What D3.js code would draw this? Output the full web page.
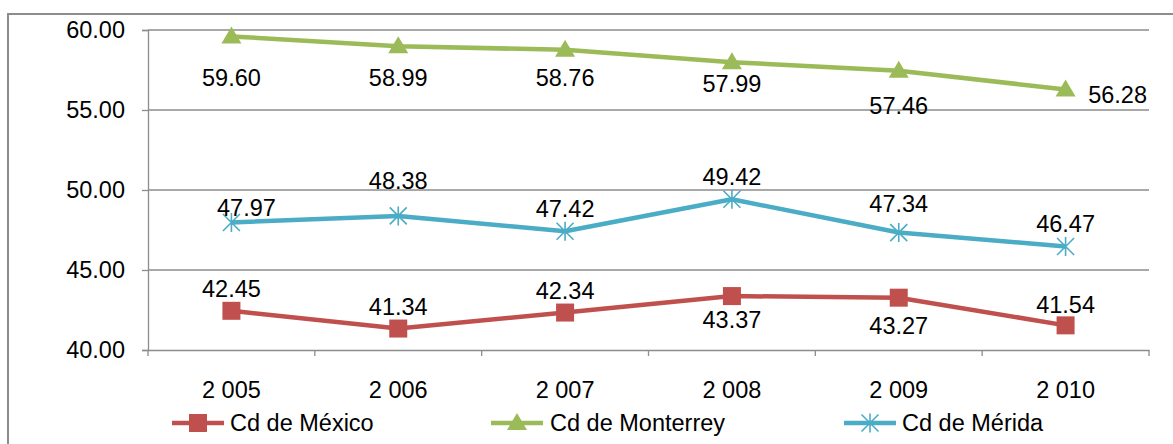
<!DOCTYPE html>
<html><head><meta charset="utf-8">
<script src="https://cdn.jsdelivr.net/npm/d3@7"></script>
<style>body{margin:0;background:#fff}svg{display:block}text{font-family:"Liberation Sans",Arial,sans-serif;fill:#000}</style>
</head><body>
<svg id="c" width="1173" height="444"></svg>
<script>
const years = ["2 005","2 006","2 007","2 008","2 009","2 010"];
const mexico = [42.45,41.34,42.34,43.37,43.27,41.54];
const monterrey = [59.60,58.99,58.76,57.99,57.46,56.28];
const merida = [47.97,48.38,47.42,49.42,47.34,46.47];
const yTicks = [40,45,50,55,60];
// label offsets (px) relative to each point
const mexLabelDy = [-22,-22,-22,23,28,-21];
const monLabelDy = [41,31,28,21,35,5];
const monLabelDx = [0,0,0,0,0,52];
const merLabelDy = [-15,-35,-23,-23,-29,-23];
const merLabelDx = [15,0,0,0,0,0];

const series = [
  {name:"Cd de México", values:mexico, color:"#C0504D", marker:"square", dy:mexLabelDy, dx:[0,0,0,0,0,0], lx:172, tx:230},
  {name:"Cd de Monterrey", values:monterrey, color:"#9BBB59", marker:"triangle", dy:monLabelDy, dx:monLabelDx, lx:491, tx:550},
  {name:"Cd de Mérida", values:merida, color:"#4BACC6", marker:"star", dy:merLabelDy, dx:merLabelDx, lx:844, tx:902}
];

const svg = d3.select("#c");
const L=148, R=1149, T=30, B=350;
const x = d3.scaleBand().domain(years).range([L,R]);
const y = d3.scaleLinear().domain([40,60]).range([B,T]);
const FS = 23.5;

// outer frame
svg.append("rect").attr("x",8).attr("y",14).attr("width",1180).attr("height",440)
  .attr("fill","none").attr("stroke","#8c8c8c").attr("stroke-width",2);

// gridlines
svg.append("g").selectAll("line").data(yTicks.filter(d=>d>40)).join("line")
  .attr("x1",L).attr("x2",R).attr("y1",d=>y(d)).attr("y2",d=>y(d))
  .attr("stroke","#8c8c8c").attr("stroke-width",1.3);

// y axis
const ya = svg.append("g").attr("transform",`translate(${L},0)`)
  .call(d3.axisLeft(y).tickValues(yTicks).tickFormat(d3.format(".2f")).tickSize(6).tickPadding(17));
ya.select(".domain").attr("stroke","#8c8c8c").attr("stroke-width",1.3);
ya.selectAll(".tick line").attr("stroke","#8c8c8c").attr("stroke-width",1.3);
ya.selectAll("text").attr("font-size",FS).attr("font-family","Liberation Sans, Arial, sans-serif").attr("fill","#000");

// x axis
const xa = svg.append("g").attr("transform",`translate(0,${B})`)
  .call(d3.axisBottom(x).tickSize(0).tickPadding(31));
xa.select(".domain").attr("stroke","#8c8c8c").attr("stroke-width",1.3);
xa.selectAll("text").attr("font-size",FS).attr("font-family","Liberation Sans, Arial, sans-serif").attr("fill","#000");
// category boundary ticks
const bounds = years.map(d=>x(d)).concat([R]);
svg.append("g").selectAll("line").data(bounds).join("line")
  .attr("x1",d=>d).attr("x2",d=>d).attr("y1",B).attr("y2",B+6)
  .attr("stroke","#8c8c8c").attr("stroke-width",1.3);

function drawMarker(g, type, cx, cy, color){
  if(type==="square"){
    g.append("rect").attr("x",cx-9).attr("y",cy-9).attr("width",18).attr("height",18).attr("fill",color);
  } else if(type==="triangle"){
    g.append("path").attr("d",`M${cx},${cy-10}L${cx+10},${cy+7}L${cx-10},${cy+7}Z`).attr("fill",color);
  } else {
    const r=8.5;
    g.append("path").attr("d",`M${cx-r},${cy-r}L${cx+r},${cy+r}M${cx-r},${cy+r}L${cx+r},${cy-r}M${cx},${cy-r-1}L${cx},${cy+r+1}`)
      .attr("stroke",color).attr("stroke-width",1.6).attr("fill","none");
  }
}

const cx = d => x(d)+x.bandwidth()/2;
const line = d3.line().x((v,i)=>cx(years[i])).y(v=>y(v));

series.forEach(s=>{
  const g = svg.append("g");
  g.append("path").datum(s.values).attr("d",line).attr("fill","none")
    .attr("stroke",s.color).attr("stroke-width",4.5).attr("stroke-linejoin","round");
  s.values.forEach((v,i)=>drawMarker(g,s.marker,cx(years[i]),y(v),s.color));
  g.selectAll("text").data(s.values).join("text")
    .attr("x",(v,i)=>cx(years[i])+s.dx[i]).attr("y",(v,i)=>y(v)+s.dy[i])
    .attr("dy","0.36em").attr("text-anchor","middle").attr("font-size",FS)
    .text(v=>v.toFixed(2));
});

// legend
const LY = 423;
series.forEach(s=>{
  const g = svg.append("g");
  g.append("line").attr("x1",s.lx).attr("x2",s.lx+52).attr("y1",LY).attr("y2",LY)
    .attr("stroke",s.color).attr("stroke-width",4.5);
  drawMarker(g,s.marker,s.lx+26,LY,s.color);
  g.append("text").attr("x",s.tx).attr("y",LY).attr("dy","0.36em").attr("font-size",FS).text(s.name);
});
</script>
</body></html>
